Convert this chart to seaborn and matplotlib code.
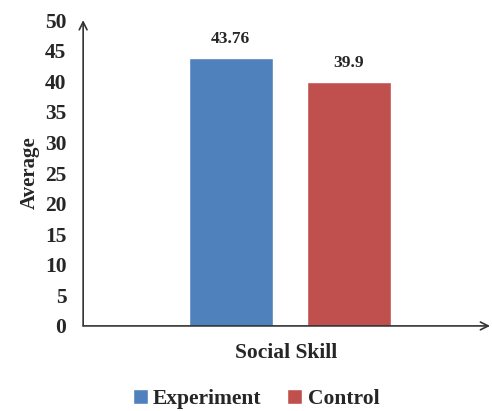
import matplotlib
matplotlib.use("Agg")
import matplotlib.pyplot as plt
import seaborn as sns
import pandas as pd

categories = ["Social Skill"]
groups = ["Experiment", "Control"]
averages = [43.76, 39.9]
y_ticks = [0, 5, 10, 15, 20, 25, 30, 35, 40, 45, 50]

df = pd.DataFrame({
    "Skill": [categories[0]] * len(groups),
    "Group": groups,
    "Average": averages,
})

sns.set_theme(style="white")
plt.rcParams["font.family"] = ["Liberation Serif", "DejaVu Serif"]
plt.rcParams["font.weight"] = "bold"

fig = plt.figure(figsize=(4.92, 4.11), dpi=100)
ax = fig.add_axes([0.169, 0.207, 0.827, 0.744])

palette = {"Experiment": "#4F81BD", "Control": "#C0504D"}
sns.barplot(data=df, x="Skill", y="Average", hue="Group", palette=palette,
            width=0.58, gap=0.29, saturation=1, ax=ax, legend=True)

for container, val in zip(ax.containers, averages):
    ax.bar_label(container, labels=[f"{val:g}"], padding=8,
                 fontsize=12.5, fontweight="bold")

ax.set_ylim(0, 50)
ax.set_xlim(-0.508, 0.492)
ax.set_yticks(y_ticks)
ax.set_yticklabels([str(t) for t in y_ticks], fontsize=15.5, fontweight="bold")
ax.tick_params(axis="y", length=0, pad=12)
ax.set_xticks([])
ax.set_xlabel("Social Skill", fontsize=15.5, fontweight="bold", labelpad=12)
ax.set_ylabel("Average", fontsize=15, fontweight="bold", labelpad=4)

for side in ["top", "right", "left", "bottom"]:
    ax.spines[side].set_visible(False)

arrow = dict(arrowstyle="->", color="#333333", lw=1.2, mutation_scale=14,
             shrinkA=0, shrinkB=0)
ax.annotate("", xy=(0, 1.0), xytext=(0, 0), xycoords="axes fraction",
            arrowprops=arrow, annotation_clip=False)
ax.annotate("", xy=(1.0, 0), xytext=(0, 0), xycoords="axes fraction",
            arrowprops=arrow, annotation_clip=False)

handles, labels = ax.get_legend_handles_labels()
ax.legend(handles, labels, loc="center", bbox_to_anchor=(0.425, -0.238),
          ncol=2, frameon=False, handlelength=0.7,
          handleheight=0.7, handletextpad=0.25, columnspacing=1.2,
          borderpad=0.2, prop={"weight": "bold", "size": 15.5})

fig.savefig("out.png", dpi=100)
